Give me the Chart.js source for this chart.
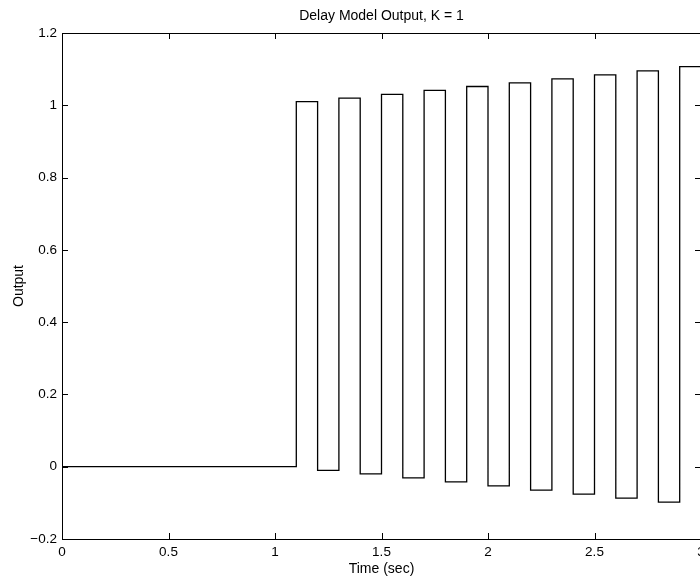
<!DOCTYPE html>
<html>
<head>
<meta charset="utf-8">
<script src="https://cdn.jsdelivr.net/npm/chart.js@4"></script>
<style>
  html, body { margin: 0; padding: 0; background: #fff; overflow: hidden; }
  #wrap { width: 702px; height: 581px; }
</style>
</head>
<body>
<div id="wrap"><canvas id="c" width="702" height="581"></canvas></div>
<script>
// Switching instants (sec) and the output level held from each instant on
const switchTimes = [0, 1.1, 1.2, 1.3, 1.4, 1.5, 1.6, 1.7, 1.8, 1.9, 2.0,
                     2.1, 2.2, 2.3, 2.4, 2.5, 2.6, 2.7, 2.8, 2.9, 3.0];
const outputLevels = [0, 1.010, -0.010, 1.020, -0.020, 1.030, -0.031, 1.041, -0.042, 1.052, -0.053,
                      1.062, -0.065, 1.073, -0.076, 1.084, -0.087, 1.095, -0.098, 1.107, 1.107];

const xTicks = [0, 0.5, 1, 1.5, 2, 2.5, 3];
const yTicks = [-0.2, 0, 0.2, 0.4, 0.6, 0.8, 1, 1.2];

const titleText = 'Delay Model Output, K = 1';
const xLabel = 'Time (sec)';
const yLabel = 'Output';

const points = switchTimes.map((t, i) => ({ x: t, y: outputLevels[i] }));

function fmt(v) {
  const s = String(Math.round(v * 10) / 10);
  return s.replace('-', '\u2212');
}

// Box around the axes with inward tick marks on all four sides
const axesBox = {
  id: 'axesBox',
  afterDraw(chart) {
    const { ctx, chartArea: a, scales } = chart;
    const len = 6;
    ctx.save();
    ctx.strokeStyle = '#000';
    ctx.lineWidth = 1;
    ctx.strokeRect(Math.round(a.left) + 0.5, Math.round(a.top) + 0.5,
                   Math.round(a.right - a.left), Math.round(a.bottom - a.top));
    ctx.beginPath();
    xTicks.forEach(v => {
      const px = Math.round(scales.x.getPixelForValue(v)) + 0.5;
      ctx.moveTo(px, a.bottom); ctx.lineTo(px, a.bottom - len);
      ctx.moveTo(px, a.top); ctx.lineTo(px, a.top + len);
    });
    yTicks.forEach(v => {
      const py = Math.round(scales.y.getPixelForValue(v)) + 0.5;
      ctx.moveTo(a.left, py); ctx.lineTo(a.left + len, py);
      ctx.moveTo(a.right, py); ctx.lineTo(a.right - len, py);
    });
    ctx.stroke();
    ctx.restore();
  }
};

const tickFont = { family: '"Liberation Sans", Arial, Helvetica, sans-serif', size: 13.5 };
const labelFont = { family: '"Liberation Sans", Arial, Helvetica, sans-serif', size: 14 };

new Chart(document.getElementById('c'), {
  type: 'line',
  data: {
    datasets: [{
      data: points,
      // hold each level until the next switching instant
      stepped: 'before',
      borderColor: '#000',
      borderWidth: 1.3,
      pointRadius: 0,
      fill: false
    }]
  },
  options: {
    responsive: false,
    animation: false,
    layout: { padding: { left: 0, right: 1, top: 0, bottom: 0 } },
    plugins: {
      legend: { display: false },
      tooltip: { enabled: false },
      title: { display: false }
    },
    scales: {
      x: {
        type: 'linear',
        position: 'bottom',
        min: 0, max: 3,
        afterBuildTicks(s) { s.ticks = xTicks.map(v => ({ value: v })); },
        afterFit(s) { s.height = 42; s.paddingLeft = 0; s.paddingRight = 0; },
        grid: { display: false, drawTicks: false },
        border: { display: false },
        ticks: { color: '#000', font: tickFont, padding: 5, maxRotation: 0, autoSkip: false,
                 callback: v => fmt(v) },
        title: { display: true, text: xLabel, color: '#000', font: labelFont,
                 padding: { top: 0, bottom: 3.6 } }
      },
      // top edge carries the plot title, centred over the axes
      xTop: {
        type: 'linear',
        position: 'top',
        min: 0, max: 3,
        afterFit(s) { s.height = 33; s.paddingLeft = 0; s.paddingRight = 0; },
        grid: { display: false, drawTicks: false },
        border: { display: false },
        ticks: { display: false },
        title: { display: true, text: titleText, color: '#000', font: labelFont,
                 padding: { top: 7.6, bottom: 0 } }
      },
      y: {
        type: 'linear',
        min: -0.2, max: 1.2,
        afterBuildTicks(s) { s.ticks = yTicks.map(v => ({ value: v })); },
        afterFit(s) { s.width = 62; s.paddingTop = 0; s.paddingBottom = 0; },
        grid: { display: false, drawTicks: false },
        border: { display: false },
        ticks: { color: '#000', font: tickFont, padding: 5, autoSkip: false,
                 callback: v => fmt(v) },
        title: { display: true, text: yLabel, color: '#000', font: labelFont,
                 padding: { top: 10.6, bottom: 0 } }
      }
    }
  },
  plugins: [axesBox]
});
</script>
</body>
</html>
